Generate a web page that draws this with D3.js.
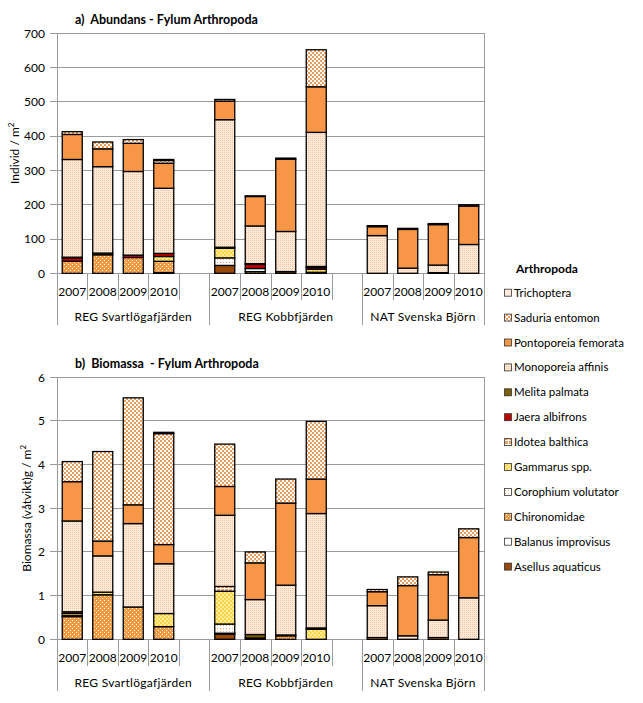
<!DOCTYPE html>
<html><head><meta charset="utf-8">
<script src="https://cdn.jsdelivr.net/npm/d3@7"></script>
<style>
html,body{margin:0;padding:0;background:#fff;}
svg text{font-family:Lato,"Open Sans",sans-serif;fill:#000;}
</style></head>
<body><svg id="c" width="643" height="703"></svg>
<script>
// ---------- DATA ----------
const groups = ["REG Svartlögafjärden", "REG Kobbfjärden", "NAT Svenska Björn"];
const years = ["2007", "2008", "2009", "2010"];
// species, bottom of stack first
const species = ["Asellus aquaticus","Balanus improvisus","Chironomidae","Corophium volutator","Gammarus spp.","Idotea balthica","Jaera albifrons","Melita palmata","Monoporeia affinis","Pontoporeia femorata","Saduria entomon","Trichoptera"];

// a) Abundance (individ / m2), 12 bars: Svart 07-10, Kobb 07-10, NAT 07-10
const abAsellus      = [0,0,0,2,    23,0,0,0,     0,0,0,0];
const abBalanus      = [0,0,0,0,    0,0,0,0,      0,0,0,0];
const abChironomidae = [35,54,46,33, 0,5,0,3,     0,0,2,0];
const abCorophium    = [0,0,0,0,    22,9,0,0,     0,0,0,0];
const abGammarus     = [0,0,0,14,   28,0,0,9,     0,0,0,0];
const abIdotea       = [0,0,0,0,    0,0,0,0,      0,0,0,0];
const abJaera        = [10,0,7,9,   0,12,0,5,     0,0,0,0];
const abMelita       = [2,5,0,0,    3,2,5,3,      0,0,0,0];
const abMonoporeia   = [285,252,244,190, 372,110,117,391, 110,15,22,84];
const abPontoporeia  = [73,52,82,73, 54,86,211,133, 26,113,118,112];
const abSaduria      = [8,20,11,8,  5,2,3,108,    3,3,3,4];
const abTrichoptera  = [0,0,0,3,    0,0,0,0,      0,0,0,0];

// b) Biomass (g / m2 wet weight)
const bmAsellus      = [0,0,0,0,    0.12,0,0,0,   0,0,0,0];
const bmBalanus      = [0,0,0,0,    0.02,0,0,0,   0,0,0,0];
const bmChironomidae = [0.52,1.02,0.74,0.29, 0,0.03,0.08,0, 0.04,0,0.04,0];
const bmCorophium    = [0.02,0,0,0, 0.21,0,0,0,   0,0,0,0];
const bmGammarus     = [0.05,0.06,0,0.30, 0.75,0,0,0.23, 0,0,0,0];
const bmIdotea       = [0,0,0,0,    0.11,0,0,0,   0,0,0,0];
const bmJaera        = [0,0,0,0,    0,0,0,0,      0,0,0,0];
const bmMelita       = [0.04,0,0,0, 0,0.08,0.02,0.03, 0,0,0,0];
const bmMonoporeia   = [2.08,0.83,1.91,1.14, 1.63,0.80,1.14,2.62, 0.73,0.08,0.40,0.95];
const bmPontoporeia  = [0.90,0.34,0.43,0.44, 0.66,0.84,1.88,0.79, 0.32,1.15,1.04,1.38];
const bmSaduria      = [0.46,2.05,2.45,2.54, 0.97,0.25,0.55,1.32, 0.05,0.20,0.06,0.20];
const bmTrichoptera  = [0,0,0,0.03, 0,0,0,0,      0,0,0,0];

const abTicks = [0,100,200,300,400,500,600,700];
const bmTicks = [0,1,2,3,4,5,6];

const abSeries = [abAsellus,abBalanus,abChironomidae,abCorophium,abGammarus,abIdotea,abJaera,abMelita,abMonoporeia,abPontoporeia,abSaduria,abTrichoptera];
const bmSeries = [bmAsellus,bmBalanus,bmChironomidae,bmCorophium,bmGammarus,bmIdotea,bmJaera,bmMelita,bmMonoporeia,bmPontoporeia,bmSaduria,bmTrichoptera];

// ---------- DRAW ----------
const svg = d3.select("#c");
const defs = svg.append("defs");
function pat(id, size, bg, cells){
  const p = defs.append("pattern").attr("id",id).attr("patternUnits","userSpaceOnUse")
    .attr("width",size).attr("height",size);
  p.append("rect").attr("width",size).attr("height",size).attr("fill",bg).attr("shape-rendering","crispEdges");
  cells.forEach(c=>p.append("rect").attr("x",c[0]).attr("y",c[1]).attr("width",c[2]).attr("height",c[3]).attr("fill",c[4]).attr("shape-rendering","crispEdges"));
}
pat("pSad",4,"#ffffff",[[0,0,2,2,"#e99d5e"],[2,2,2,2,"#e99d5e"]]);
pat("pChi",4,"#f39a42",[[0,0,1,1,"#ffffff"],[2,2,1,1,"#ffffff"]]);
pat("pMon",2,"#fde9da",[[0,0,1,1,"#f5c6a0"]]);
pat("pIdo",4,"#f0a060",[[0,0,4,1,"#fff"],[0,0,1,4,"#fff"]]);
pat("pGam",4,"#ffd446",[[0,0,2,2,"#ffec99"],[2,2,2,2,"#ffec99"]]);
pat("pCor",3,"#ffffff",[[1,1,1,1,"#eea878"]]);

const fills = {
  "Asellus aquaticus":"#984807",
  "Balanus improvisus":"#ffffff",
  "Chironomidae":"url(#pChi)",
  "Corophium volutator":"url(#pCor)",
  "Gammarus spp.":"url(#pGam)",
  "Idotea balthica":"url(#pIdo)",
  "Jaera albifrons":"#c00000",
  "Melita palmata":"#7f6000",
  "Monoporeia affinis":"url(#pMon)",
  "Pontoporeia femorata":"#f79646",
  "Saduria entomon":"url(#pSad)",
  "Trichoptera":"#fdeada"
};

// x slots: 4 years per group + a spacer after first two groups
const slots = [];
groups.forEach((g,gi)=>{
  years.forEach(y=>slots.push(g+"|"+y));
  if(gi<groups.length-1) slots.push("gap"+gi);
});
const barKeys = [];
groups.forEach(g=>years.forEach(y=>barKeys.push(g+"|"+y)));

const L = 57, R = 484;
const x = d3.scaleBand().domain(slots).range([L,R]).paddingInner(0.344).paddingOuter(0.172);
const step = x.step();
const slotLeft = k => x(k) - step*x.paddingInner()/2;

function drawChart(opts){
  const {y0, y1, max, ticks, series, title, titleY, ylab, ylabX, fmt} = opts;
  const y = d3.scaleLinear().domain([0,max]).range([y0,y1]);
  const g = svg.append("g");
  g.selectAll(".grid").data(ticks).enter().append("line")
    .attr("x1",L-7).attr("x2",R).attr("y1",d=>y(d)).attr("y2",d=>y(d))
    .attr("stroke","#9b9b9b").attr("stroke-width",1).attr("shape-rendering","crispEdges");
  g.append("line").attr("x1",L).attr("x2",L).attr("y1",y1).attr("y2",y0+52).attr("stroke","#9b9b9b").attr("shape-rendering","crispEdges");
  g.append("line").attr("x1",R).attr("x2",R).attr("y1",y1).attr("y2",y0+52).attr("stroke","#9b9b9b").attr("shape-rendering","crispEdges");
  g.selectAll(".tl").data(ticks).enter().append("text")
    .attr("x",L-12).attr("y",d=>y(d)).attr("dy","0.35em").attr("text-anchor","end")
    .attr("font-size","12px").text(fmt);
  slots.forEach((k,i)=>{
    if(i===0) return;
    const xx = Math.round(slotLeft(k));
    const isGroup = slots[i-1].startsWith("gap");
    g.append("line").attr("x1",xx).attr("x2",xx).attr("y1",y0).attr("y2",isGroup? y0+52 : y0+27).attr("stroke","#9b9b9b").attr("shape-rendering","crispEdges");
  });
  barKeys.forEach(k=>{
    g.append("text").attr("x",x(k)+x.bandwidth()/2).attr("y",y0+18).attr("dy","0.35em")
      .attr("text-anchor","middle").attr("font-size","12px").text(k.split("|")[1]);
  });
  groups.forEach((gr,gi)=>{
    const a = slotLeft(gr+"|2007");
    const b = gi<groups.length-1 ? slotLeft("gap"+gi)+step : R;
    g.append("text").attr("x",(a+b)/2).attr("y",y0+43).attr("dy","0.35em")
      .attr("text-anchor","middle").attr("font-size","12px").attr("letter-spacing","0.3px").text(gr);
  });
  const table = barKeys.map((k,i)=>{
    const o = {key:k};
    species.forEach((s,si)=>o[s]=series[si][i]);
    return o;
  });
  const stack = d3.stack().keys(species)(table);
  stack.forEach((layer,li)=>{
    g.append("g").selectAll("rect").data(layer.filter(d=>d[1]-d[0]>0)).enter().append("rect")
      .attr("x",d=>x(d.data.key)).attr("width",x.bandwidth())
      .attr("y",d=>y(d[1])).attr("height",d=>y(d[0])-y(d[1]))
      .attr("fill",fills[species[li]]).attr("stroke","#000").attr("stroke-width",1.3);
  });
  svg.append("text").attr("x",75).attr("y",titleY).attr("font-size","12.5px").attr("font-weight","bold")
    .attr("xml:space","preserve").text(title);
  const yl = svg.append("text").attr("transform",`translate(${ylabX},${(y0+y1)/2}) rotate(-90)`)
    .attr("text-anchor","middle").attr("font-size","12px");
  yl.append("tspan").text(ylab);
  yl.append("tspan").attr("font-size","8px").attr("dy","-5").text("2");
}

drawChart({y0:273.3, y1:33.3, max:700, ticks:abTicks, series:abSeries,
  title:"a)  Abundans - Fylum Arthropoda", titleY:24, ylab:"Individ / m", ylabX:19, fmt:d=>d});
drawChart({y0:639.3, y1:377.3, max:6, ticks:bmTicks, series:bmSeries,
  title:"b)  Biomassa  - Fylum Arthropoda", titleY:368, ylab:"Biomassa (våtvikt)g / m", ylabX:31, fmt:d=>d});

// legend (top item = last stacked series)
const leg = svg.append("g");
leg.append("text").attr("x",516).attr("y",269).attr("dy","0.35em").attr("font-size","12px").attr("font-weight","bold").text("Arthropoda");
species.slice().reverse().forEach((s,i)=>{
  const yy = 292.7 + i*24.9;
  leg.append("rect").attr("x",504.5).attr("y",yy-3.5).attr("width",7).attr("height",7)
    .attr("fill",fills[s]).attr("stroke","#333").attr("stroke-width",0.8);
  leg.append("text").attr("x",514).attr("y",yy).attr("dy","0.35em").attr("font-size","11.5px").text(s);
});
</script></body></html>
